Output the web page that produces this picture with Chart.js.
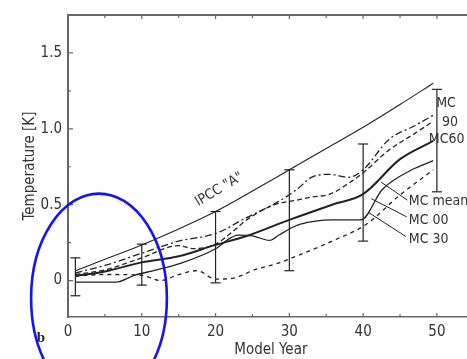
<!DOCTYPE html>
<html>
<head>
<meta charset="utf-8">
<script src="https://cdn.jsdelivr.net/npm/chart.js@4/dist/chart.umd.min.js"></script>
<style>
  html, body { margin: 0; padding: 0; background: #fff; overflow: hidden; }
  #wrap { width: 480px; height: 359px; }
</style>
</head>
<body>
<div id="wrap"><canvas id="chart" width="480" height="359"></canvas></div>
<script>
// model years and temperatures [K]
const ipccYears = [1, 5, 10, 15, 20, 25, 30, 35, 40, 45, 49.5];
const ipccTemp  = [0.065, 0.14, 0.235, 0.34, 0.455, 0.59, 0.73, 0.87, 1.01, 1.16, 1.30];

const mc90Years = [1, 5, 10, 15, 20, 24, 28.5, 31, 33, 35.5, 38, 40, 43.5, 47, 49.5];
const mc90Temp  = [0.05, 0.10, 0.18, 0.26, 0.31, 0.41, 0.52, 0.60, 0.68, 0.70, 0.68, 0.73, 0.93, 1.02, 1.09];

const mc60Years = [1, 5, 10, 15, 17, 20, 22, 24.5, 28, 31, 33, 35.5, 38, 40, 43.5, 47, 49.5];
const mc60Temp  = [0.04, 0.07, 0.15, 0.23, 0.21, 0.24, 0.31, 0.41, 0.50, 0.53, 0.55, 0.57, 0.64, 0.71, 0.86, 0.97, 1.05];

const meanYears = [1, 5, 10, 15, 20, 24, 30, 35.8, 40, 45, 49.5];
const meanTemp  = [0.03, 0.06, 0.12, 0.16, 0.235, 0.29, 0.40, 0.50, 0.57, 0.80, 0.92];

const mc00Years = [1, 6.5, 9, 12, 15, 20, 22, 23, 25, 27.3, 28.6, 30, 31.4, 35.8, 39.7, 42.6, 46.6, 49.5];
const mc00Temp  = [-0.01, -0.01, 0.035, 0.07, 0.11, 0.21, 0.28, 0.30, 0.295, 0.265, 0.30, 0.34, 0.37, 0.40, 0.40, 0.60, 0.73, 0.79];

const mc30Years = [1, 5, 10, 12.5, 15, 17.5, 20, 22.3, 25.5, 28.2, 31.4, 35.8, 40.4, 44.9, 49.5];
const mc30Temp  = [0.03, 0.04, 0.035, 0.0, 0.04, 0.065, 0.01, 0.015, 0.075, 0.11, 0.17, 0.26, 0.37, 0.56, 0.73];

// spread bars
const errYears = [1, 10, 20, 30, 40, 50];
const errLow   = [-0.10, -0.03, -0.015, 0.065, 0.26, 0.585];
const errHigh  = [0.15, 0.24, 0.455, 0.73, 0.90, 1.26];

const xTickValues = [0, 10, 20, 30, 40, 50];
const yTickValues = [0, 0.5, 1.0, 1.5];

// labels placed in data coordinates
const notes = [
  { text: 'IPCC "A"', x: 20.5, y: 0.60, rot: -31 },
  { text: 'MC', x: 49.9, y: 1.17 },
  { text: '90', x: 50.7, y: 1.04 },
  { text: 'MC60', x: 48.9, y: 0.93 },
  { text: 'MC mean', x: 46.2, y: 0.52 },
  { text: 'MC 00', x: 46.2, y: 0.40 },
  { text: 'MC 30', x: 46.2, y: 0.27 },
];
const leaders = [
  [42.4, 0.65, 46.0, 0.53],
  [41.1, 0.54, 45.9, 0.42],
  [40.7, 0.45, 45.8, 0.29],
];
// hand-drawn blue ring: centre (year, K) and radii
const ring = { x: 4.2, y: -0.117, rx: 9.2, ry: 0.69 };

const FONT = "'DejaVu Sans Condensed', 'DejaVu Sans', sans-serif";
const INK = '#222';
const AXIS = '#666';

const pts = (xs, ys) => xs.map((x, i) => ({ x, y: ys[i] }));

const errData = [];
errYears.forEach((x, i) => {
  errData.push({ x, y: errLow[i] }, { x, y: errHigh[i] }, { x, y: null });
});

const line = (data, width, dash) => ({
  data,
  borderColor: INK,
  borderWidth: width,
  borderDash: dash,
  pointRadius: 0,
  cubicInterpolationMode: 'monotone',
  fill: false,
});

const decor = {
  id: 'decor',
  afterDraw(chart) {
    const { ctx, chartArea: a, scales: { x, y } } = chart;
    ctx.save();
    ctx.strokeStyle = AXIS;
    ctx.lineWidth = 1.2;
    ctx.beginPath();
    // inward ticks
    for (let v = -0.25; v <= 1.75; v += 0.25) {
      const py = y.getPixelForValue(v);
      if (py < a.top || py > a.bottom) continue;
      const len = Math.abs(v * 2 - Math.round(v * 2)) < 1e-6 ? 5 : 3;
      ctx.moveTo(a.left, py); ctx.lineTo(a.left + len, py);
    }
    for (let v = 5; v <= 55; v += 5) {
      const px = x.getPixelForValue(v);
      const len = v % 10 === 0 ? 4 : 3;
      ctx.moveTo(px, a.bottom); ctx.lineTo(px, a.bottom - len);
      ctx.moveTo(px, a.top); ctx.lineTo(px, a.top + len);
    }
    ctx.stroke();

    // leader lines
    ctx.strokeStyle = INK;
    ctx.lineWidth = 1;
    ctx.beginPath();
    leaders.forEach(([x1, y1, x2, y2]) => {
      ctx.moveTo(x.getPixelForValue(x1), y.getPixelForValue(y1));
      ctx.lineTo(x.getPixelForValue(x2), y.getPixelForValue(y2));
    });
    ctx.stroke();

    // text labels
    ctx.fillStyle = '#333';
    ctx.font = '14px ' + FONT;
    notes.forEach(n => {
      const px = x.getPixelForValue(n.x), py = y.getPixelForValue(n.y);
      ctx.save();
      ctx.translate(px, py);
      if (n.rot) {
        ctx.rotate(n.rot * Math.PI / 180);
        ctx.textAlign = 'center';
      } else {
        ctx.textAlign = 'left';
      }
      ctx.textBaseline = 'middle';
      ctx.fillText(n.text, 0, 0);
      ctx.restore();
    });

    // panel letter
    ctx.font = "bold 15px 'Liberation Serif', serif";
    ctx.textAlign = 'center';
    ctx.textBaseline = 'middle';
    ctx.fillStyle = '#222';
    ctx.fillText('b', a.left - 27, a.bottom + 21);

    // blue ring
    const cx = x.getPixelForValue(ring.x), cy = y.getPixelForValue(ring.y);
    const rx = x.getPixelForValue(ring.x + ring.rx) - cx;
    const ry = cy - y.getPixelForValue(ring.y + ring.ry);
    ctx.strokeStyle = '#1414f0';
    ctx.lineWidth = 2.6;
    ctx.beginPath();
    ctx.ellipse(cx, cy, rx, ry, 0, 0, Math.PI * 2);
    ctx.stroke();
    ctx.restore();
  }
};

Chart.defaults.font.family = FONT;
Chart.defaults.color = '#333';

new Chart(document.getElementById('chart'), {
  type: 'line',
  data: {
    datasets: [
      line(pts(ipccYears, ipccTemp), 1.1, []),
      line(pts(mc90Years, mc90Temp), 1.3, [7, 3, 2, 3]),
      line(pts(mc60Years, mc60Temp), 1.3, [5, 3]),
      line(pts(meanYears, meanTemp), 2.0, []),
      line(pts(mc00Years, mc00Temp), 1.3, []),
      line(pts(mc30Years, mc30Temp), 1.3, [4, 4]),
      {
        data: errData,
        borderColor: INK,
        borderWidth: 1.2,
        tension: 0,
        spanGaps: false,
        pointStyle: 'line',
        pointRadius: 5,
        pointBorderColor: INK,
        pointBorderWidth: 1.2,
        clip: false,
      },
    ],
  },
  options: {
    responsive: false,
    animation: false,
    layout: { padding: 0 },
    plugins: { legend: { display: false }, tooltip: { enabled: false } },
    scales: {
      x: {
        type: 'linear',
        position: 'bottom',
        min: 0,
        max: 55,
        afterBuildTicks: s => { s.ticks = xTickValues.map(value => ({ value })); },
        afterFit: s => { s.height = 42; },
        grid: { display: false, drawTicks: false, tickLength: 0 },
        border: { display: true, color: AXIS, width: 1.5 },
        ticks: { padding: 6, font: { size: 15 }, color: '#333' },
        title: { display: true, text: 'Model Year', font: { size: 15 }, color: '#333', padding: { top: 0, bottom: 0 } },
      },
      xTop: {
        type: 'linear',
        position: 'top',
        min: 0,
        max: 55,
        afterFit: s => { s.height = 11; },
        grid: { display: false, drawTicks: false, tickLength: 0 },
        border: { display: true, color: AXIS, width: 2 },
        ticks: { display: false },
      },
      y: {
        min: -0.24,
        max: 1.75,
        afterBuildTicks: s => { s.ticks = yTickValues.map(value => ({ value })); },
        afterFit: s => { s.width = 68; },
        grid: { display: false, drawTicks: false, tickLength: 0 },
        border: { display: true, color: AXIS, width: 2 },
        ticks: {
          padding: 6,
          font: { size: 15 },
          color: '#333',
          callback: v => (v === 0 ? '0' : v.toFixed(1)),
        },
        title: { display: true, text: 'Temperature [K]', font: { size: 15 }, color: '#333', padding: { top: 21, bottom: 0 } },
      },
    },
  },
  plugins: [decor],
});
</script>
</body>
</html>
